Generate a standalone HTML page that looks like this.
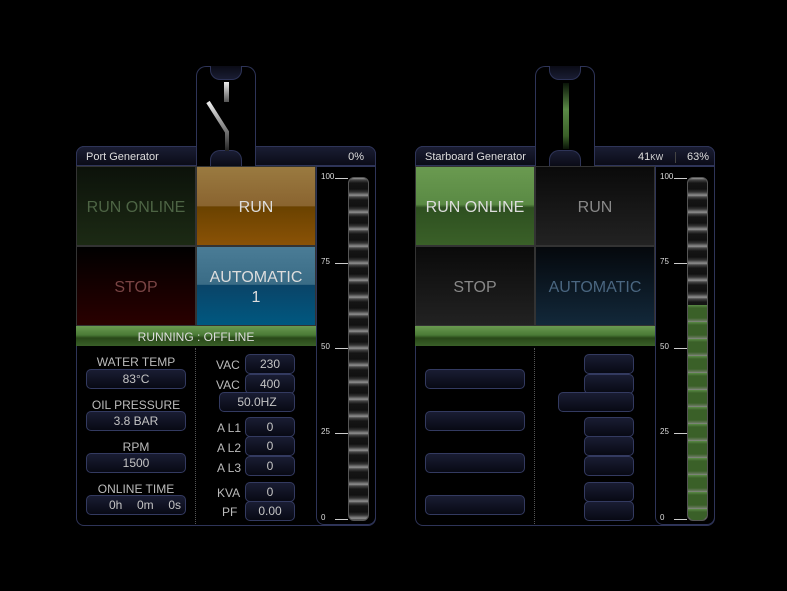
<!DOCTYPE html>
<html><head><meta charset="utf-8"><style>
*{margin:0;padding:0;box-sizing:border-box}
body{width:787px;height:591px;background:#000;position:relative;overflow:hidden;font-family:"Liberation Sans",sans-serif;color:#ccc}
.a{position:absolute}
.panel{position:absolute;border:1px solid #2e3458;border-radius:8px;background:#000}
.hdr{position:absolute;height:20px;background:linear-gradient(#1a1d33,#0b0c18);border:1px solid #2e3458;border-radius:8px 8px 0 0;font-size:11px;color:#ddd;line-height:21px}
.btn{position:absolute;width:120px;height:80px;border:1px solid #333;display:flex;align-items:center;justify-content:center;text-align:center;font-size:16px;line-height:20px;padding-top:3px}
.box{position:absolute;height:20px;border:1px solid #333a60;border-radius:5px;background:linear-gradient(#1a1d33,#080914);font-size:12px;color:#c4c4c4;text-align:center;line-height:19px}
.lbl{position:absolute;font-size:12px;color:#bbb;text-align:center;margin-top:1px}
.tab{position:absolute;width:60px;height:100px;border:1px solid #2e3458;border-bottom:none;border-radius:10px 10px 0 0;background:#000}
.capt{position:absolute;left:13px;top:-1px;width:32px;height:14px;border:1px solid #2e3458;border-top:none;border-radius:0 0 10px 10px;background:linear-gradient(#0a0b16,#1a1d33)}
.capb{position:absolute;left:13px;bottom:0;width:32px;height:16px;border:1px solid #2e3458;border-bottom:none;border-radius:10px 10px 0 0;background:linear-gradient(#1a1d33,#0a0b16)}
.gauge{position:absolute;width:60px;height:359px;border:1px solid #2e3458;border-radius:0 0 8px 8px;background:#000}
.tk{position:absolute;font-size:8px;color:#ddd;left:4px}
.tk i{position:absolute;left:14px;top:6px;width:13px;height:1px;background:#ccc}
.bar{position:absolute;left:31px;top:10px;width:21px;height:344px;border-radius:6px;background:repeating-linear-gradient(#999 0,#444 2px,#151515 5px,#111 11px,#333 14px,#888 17px);border:1px solid #555}
.div{position:absolute;width:0;border-left:1px dotted #555}
</style></head><body>

<!-- PORT -->
<div class="panel" style="left:76px;top:146px;width:300px;height:380px"></div>
<div class="hdr" style="left:76px;top:146px;width:300px"><span class="a" style="left:9px">Port Generator</span><span class="a" style="right:11px">0%</span></div>
<div class="tab" style="left:196px;top:66px"><div class="capt"></div><div class="capb"></div>
<div class="a" style="left:27px;top:15px;width:5px;height:20px;background:linear-gradient(#eee,#555)"></div>
<svg class="a" style="left:0;top:30px" width="60" height="55"><defs><linearGradient id="g1" x1="0" y1="0" x2="0" y2="1"><stop offset="0" stop-color="#eee"/><stop offset="1" stop-color="#222"/></linearGradient></defs><polyline points="11,5 30,35 30,54" fill="none" stroke="url(#g1)" stroke-width="4"/></svg>
</div>
<div class="btn" style="left:76px;top:166px;background:linear-gradient(#0c120a,#1c2a14);color:#4d6444">RUN ONLINE</div>
<div class="btn" style="left:196px;top:166px;background:linear-gradient(#9a7a40 0,#8a6430 50%,#6a4200 51%,#8a5206 100%);color:#ddd">RUN</div>
<div class="btn" style="left:76px;top:246px;background:linear-gradient(#000,#2a0000);color:#7a4444">STOP</div>
<div class="btn" style="left:196px;top:246px;background:linear-gradient(#4a7c96 0,#3a6c86 48%,#0a4468 49%,#005880 100%);color:#ddd">AUTOMATIC<br>1</div>
<div class="a" style="left:76px;top:326px;width:240px;height:20px;background:linear-gradient(#6a9a50,#4a7a36 45%,#284818 60%,#3a6028);font-size:12px;color:#ddd;text-align:center;line-height:22px">RUNNING : OFFLINE</div>
<div class="div" style="left:195px;top:348px;height:176px"></div>
<div class="lbl" style="left:86px;top:354px;width:100px">WATER TEMP</div>
<div class="box" style="left:86px;top:369px;width:100px">83°C</div>
<div class="lbl" style="left:86px;top:397px;width:100px">OIL PRESSURE</div>
<div class="box" style="left:86px;top:411px;width:100px">3.8 BAR</div>
<div class="lbl" style="left:86px;top:439px;width:100px">RPM</div>
<div class="box" style="left:86px;top:453px;width:100px">1500</div>
<div class="lbl" style="left:86px;top:481px;width:100px">ONLINE TIME</div>
<div class="box" style="left:86px;top:495px;width:100px;text-align:right;padding-right:4px;word-spacing:4px">0h&nbsp; 0m&nbsp; 0s</div>
<div class="lbl" style="left:216px;top:357px">VAC</div><div class="box" style="left:245px;top:354px;width:50px">230</div>
<div class="lbl" style="left:216px;top:377px">VAC</div><div class="box" style="left:245px;top:374px;width:50px">400</div>
<div class="box" style="left:219px;top:392px;width:76px">50.0HZ</div>
<div class="lbl" style="left:217px;top:420px">A L1</div><div class="box" style="left:245px;top:417px;width:50px">0</div>
<div class="lbl" style="left:217px;top:440px">A L2</div><div class="box" style="left:245px;top:436px;width:50px">0</div>
<div class="lbl" style="left:217px;top:460px">A L3</div><div class="box" style="left:245px;top:456px;width:50px">0</div>
<div class="lbl" style="left:217px;top:485px">KVA</div><div class="box" style="left:245px;top:482px;width:50px">0</div>
<div class="lbl" style="left:222px;top:504px">PF</div><div class="box" style="left:245px;top:501px;width:50px">0.00</div>
<div class="gauge" style="left:316px;top:166px">
<div class="tk" style="top:5px">100<i></i></div><div class="tk" style="top:90px">75<i></i></div><div class="tk" style="top:175px">50<i></i></div><div class="tk" style="top:260px">25<i></i></div><div class="tk" style="top:346px">0<i></i></div>
<div class="bar"></div></div>

<!-- STARBOARD -->
<div class="panel" style="left:415px;top:146px;width:300px;height:380px"></div>
<div class="hdr" style="left:415px;top:146px;width:300px"><span class="a" style="left:9px">Starboard Generator</span><span class="a" style="left:222px">41<small style="font-size:8px">KW</small></span><span class="a" style="left:259px;top:5px;width:1px;height:11px;background:#444"></span><span class="a" style="right:5px">63%</span></div>
<div class="tab" style="left:535px;top:66px"><div class="capt"></div><div class="capb"></div>
<div class="a" style="left:27px;top:16px;width:6px;height:66px;background:linear-gradient(#0a1408,#5a8a46 40%,#3a6028 80%,#0a1408)"></div></div>
<div class="btn" style="left:415px;top:166px;background:linear-gradient(#6a9a50 0,#5a8a44 48%,#2e5020 52%,#3a6028 100%);color:#ddd">RUN ONLINE</div>
<div class="btn" style="left:535px;top:166px;background:linear-gradient(#0a0a0a,#222);color:#888">RUN</div>
<div class="btn" style="left:415px;top:246px;background:linear-gradient(#0a0a0a,#222);color:#888">STOP</div>
<div class="btn" style="left:535px;top:246px;background:linear-gradient(#05080c,#12283a);color:#4a6680">AUTOMATIC</div>
<div class="a" style="left:415px;top:326px;width:240px;height:20px;background:linear-gradient(#6a9a50,#4a7a36 45%,#284818 60%,#3a6028)"></div>
<div class="div" style="left:534px;top:348px;height:176px"></div>
<div class="box" style="left:425px;top:369px;width:100px"></div>
<div class="box" style="left:425px;top:411px;width:100px"></div>
<div class="box" style="left:425px;top:453px;width:100px"></div>
<div class="box" style="left:425px;top:495px;width:100px"></div>
<div class="box" style="left:584px;top:354px;width:50px"></div>
<div class="box" style="left:584px;top:374px;width:50px"></div>
<div class="box" style="left:558px;top:392px;width:76px"></div>
<div class="box" style="left:584px;top:417px;width:50px"></div>
<div class="box" style="left:584px;top:436px;width:50px"></div>
<div class="box" style="left:584px;top:456px;width:50px"></div>
<div class="box" style="left:584px;top:482px;width:50px"></div>
<div class="box" style="left:584px;top:501px;width:50px"></div>
<div class="gauge" style="left:655px;top:166px">
<div class="tk" style="top:5px">100<i></i></div><div class="tk" style="top:90px">75<i></i></div><div class="tk" style="top:175px">50<i></i></div><div class="tk" style="top:260px">25<i></i></div><div class="tk" style="top:346px">0<i></i></div>
<div class="bar"></div>
<div class="a" style="left:32px;top:138px;width:19px;height:215px;border-radius:0 0 6px 6px;background:repeating-linear-gradient(#5a8a46 0,#3a6028 3px,#3a6028 13px,#6a7a60 16px,#8a8a8a 17px)"></div>
</div>
</body></html>
